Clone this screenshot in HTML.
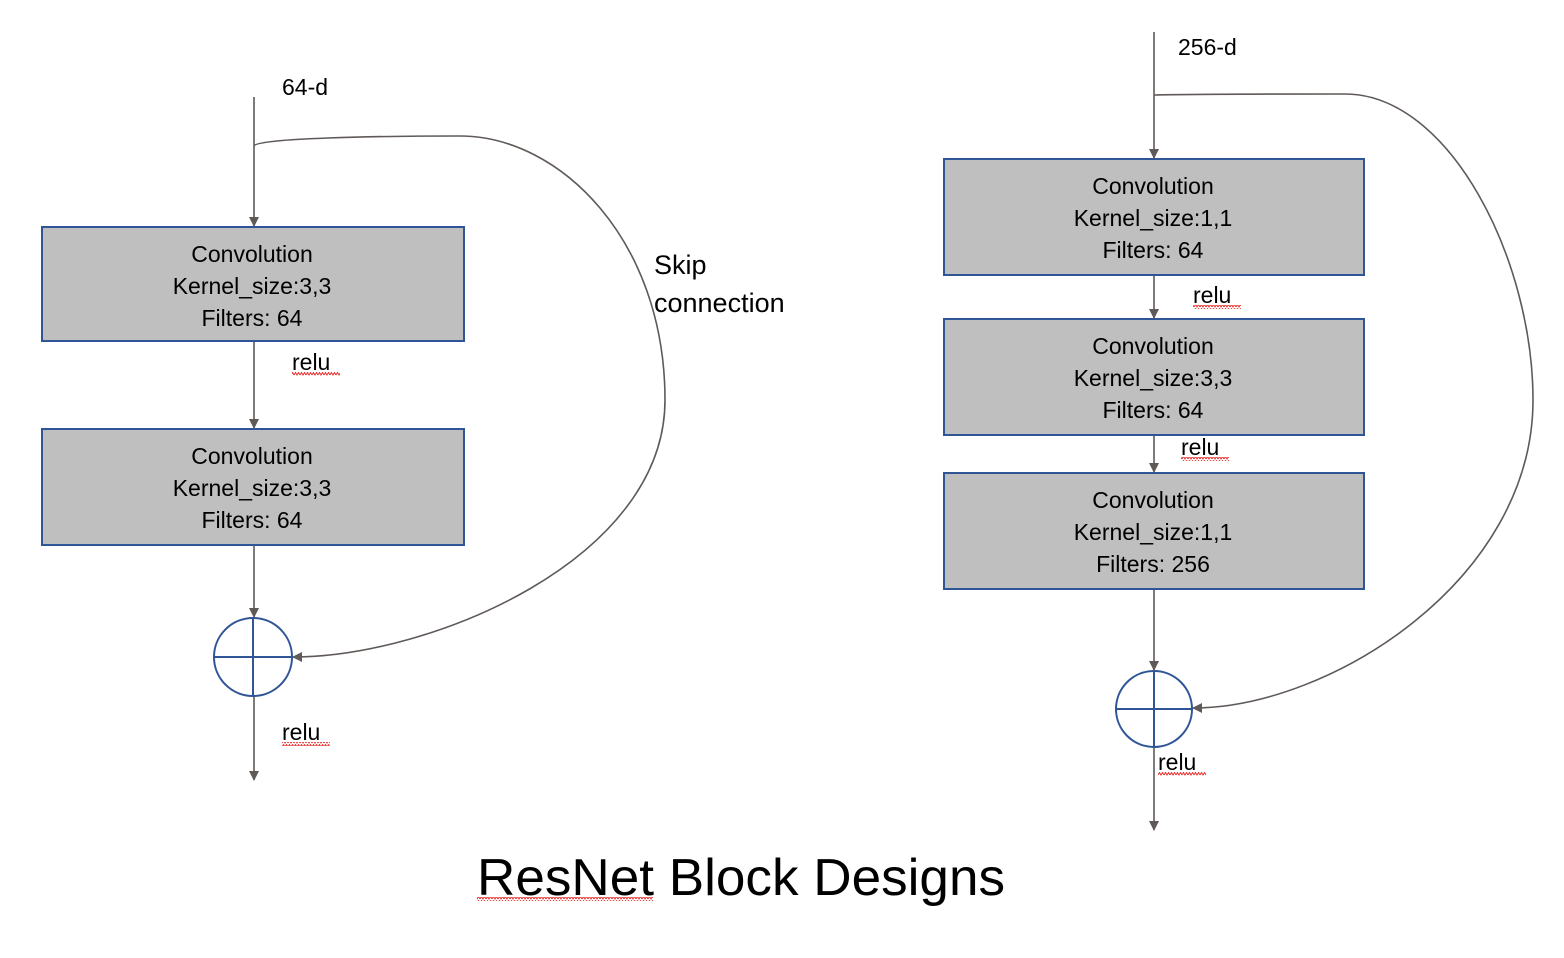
<!DOCTYPE html>
<html><head><style>body{margin:0;background:#fff}svg{display:block}text{font-family:"Liberation Sans",sans-serif;fill:#000}</style></head><body>
<svg width="1564" height="958" viewBox="0 0 1564 958" xmlns="http://www.w3.org/2000/svg">
<defs>
<marker id="a" markerWidth="10" markerHeight="10" refX="9" refY="5" orient="auto" markerUnits="userSpaceOnUse"><path d="M0,0 L10,5 L0,10 z" fill="#5f5a57"/></marker>
<pattern id="w" width="6" height="4" patternUnits="userSpaceOnUse"><path d="M0,3 L1.5,0.5 L3,3 L4.5,0.5 L6,3" fill="none" stroke="#e8322f" stroke-width="1"/></pattern>
</defs>
<g stroke="#5f5a57" stroke-width="1.6" fill="none">
<line x1="254" y1="97" x2="254" y2="226" marker-end="url(#a)"/>
<line x1="254" y1="341" x2="254" y2="428" marker-end="url(#a)"/>
<line x1="254" y1="545" x2="254" y2="617" marker-end="url(#a)"/>
<line x1="254" y1="696" x2="254" y2="780" marker-end="url(#a)"/>
<path d="M254,146 C256,138 380,136 460,136 C560,136 665,240 665,400 C665,560 430,657 293,657" marker-end="url(#a)"/>
<line x1="1154" y1="32" x2="1154" y2="158" marker-end="url(#a)"/>
<line x1="1154" y1="275" x2="1154" y2="318" marker-end="url(#a)"/>
<line x1="1154" y1="435" x2="1154" y2="472" marker-end="url(#a)"/>
<line x1="1154" y1="589" x2="1154" y2="670" marker-end="url(#a)"/>
<line x1="1154" y1="747" x2="1154" y2="830" marker-end="url(#a)"/>
<path d="M1154,95 C1200,94 1300,94 1345,94 C1450,94 1533,260 1533,400 C1533,580 1330,708 1193,708" marker-end="url(#a)"/>
</g>
<g fill="#bfbfbf" stroke="#2f5597" stroke-width="2">
<rect x="42" y="227" width="422" height="114"/>
<rect x="42" y="429" width="422" height="116"/>
<rect x="944" y="159" width="420" height="116"/>
<rect x="944" y="319" width="420" height="116"/>
<rect x="944" y="473" width="420" height="116"/>
</g>
<g fill="none" stroke="#2f5597" stroke-width="2">
<circle cx="253" cy="657" r="39"/><line x1="214" y1="657" x2="292" y2="657"/><line x1="253" y1="618" x2="253" y2="696"/>
<circle cx="1154" cy="709" r="38"/><line x1="1116" y1="709" x2="1192" y2="709"/><line x1="1154" y1="671" x2="1154" y2="747"/>
</g>
<g font-size="23" text-anchor="middle">
<text x="252" y="262">Convolution</text><text x="252" y="294">Kernel_size:3,3</text><text x="252" y="326">Filters: 64</text>
<text x="252" y="464">Convolution</text><text x="252" y="496">Kernel_size:3,3</text><text x="252" y="528">Filters: 64</text>
<text x="1153" y="194">Convolution</text><text x="1153" y="226">Kernel_size:1,1</text><text x="1153" y="258">Filters: 64</text>
<text x="1153" y="354">Convolution</text><text x="1153" y="386">Kernel_size:3,3</text><text x="1153" y="418">Filters: 64</text>
<text x="1153" y="508">Convolution</text><text x="1153" y="540">Kernel_size:1,1</text><text x="1153" y="572">Filters: 256</text>
</g>
<g font-size="23">
<text x="282" y="95">64-d</text><text x="1178" y="55">256-d</text>
<text x="292" y="370">relu</text><text x="282" y="740">relu</text>
<text x="1193" y="303">relu</text><text x="1181" y="455">relu</text><text x="1158" y="770">relu</text>
</g>
<g fill="url(#w)">
<rect x="292" y="372" width="48" height="4"/><rect x="282" y="742" width="48" height="4"/>
<rect x="1193" y="305" width="48" height="4"/><rect x="1181" y="457" width="48" height="4"/><rect x="1158" y="772" width="48" height="4"/>
<rect x="477" y="897" width="176" height="4"/>
</g>
<g font-size="27"><text x="654" y="274">Skip</text><text x="654" y="312">connection</text></g>
<text x="477" y="895" font-size="52" textLength="528" lengthAdjust="spacingAndGlyphs">ResNet Block Designs</text>
</svg>
</body></html>
